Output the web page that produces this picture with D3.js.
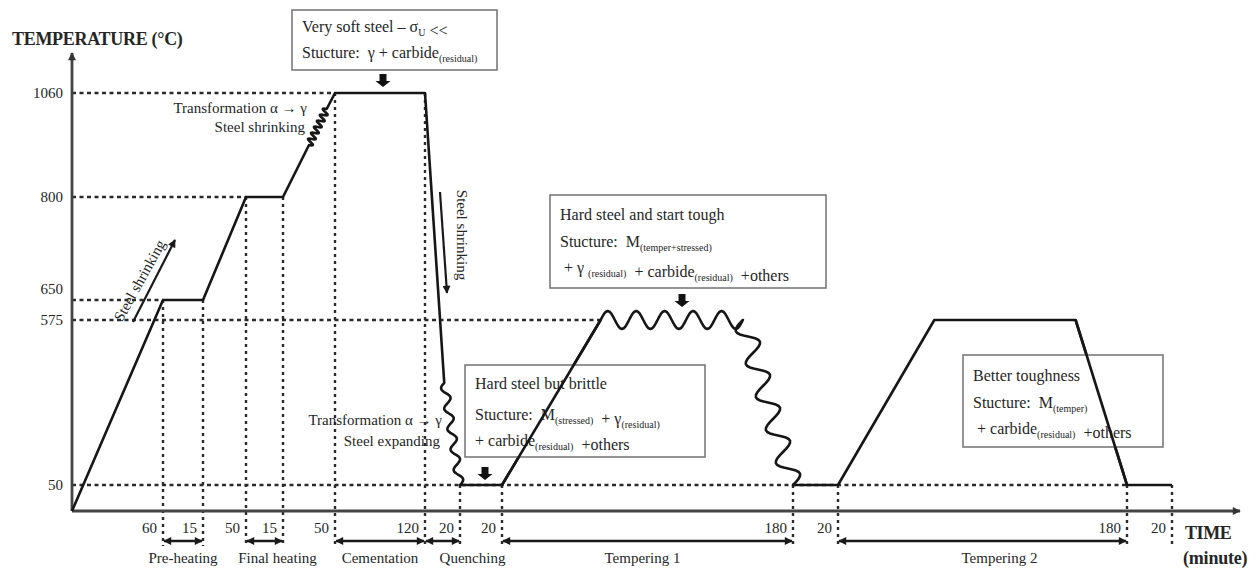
<!DOCTYPE html>
<html>
<head>
<meta charset="utf-8">
<script src="https://cdn.jsdelivr.net/npm/d3@7"></script>
<style>
  body { margin: 0; background: #fff; }
  svg text { font-family: "Liberation Serif", "Times New Roman", serif; fill: #262626; }
</style>
</head>
<body>
<svg id="chart" width="1257" height="576"></svg>
<script>
// ---- data ----
// duration of each stage (minutes), left to right
const stageMinutes = [60, 15, 50, 15, 50, 120, 20, 20, 180, 20, 180, 20];
const tempTicks = [50, 575, 650, 800, 1060];
// dashed guide for each tick runs out to this time
const tickGuideEnd = [730, 411, 60, 125, 190];

// heat treatment profile
const profileTime = [0, 60, 75, 125, 140, 165, 182, 190, 310, 321, 330, 350, 411, 499, 530, 550, 610, 698, 730, 750];
const profileTemp = [20, 650, 650, 800, 800, 930, 1020, 1060, 1060, 375, 50, 50, 575, 575, 50, 50, 575, 575, 50, 50];

const phaseNames = ["Pre-heating", "Final heating", "Cementation", "Quenching", "Tempering 1", "Tempering 2"];
const phaseFrom = [60, 125, 190, 310, 350, 550];
const phaseTo = [75, 140, 310, 330, 530, 730];

// ---- layout / style ----
const axisY = 511, axisX = 72;
const xStops = [72, 163, 203, 246, 283, 335, 425, 460, 502, 793, 838, 1127, 1172];
const yStops = [511, 485, 320, 300, 197, 93];
const phaseLabelNudge = [0, 13, 0, 30, -5, 17];
const serif = "Liberation Serif, Times New Roman, serif";

// wavy segments, keyed by the segment's start time
const wiggle = {
  165: { amp: 3.5, wl: 7, phase: 0 },
  321: { amp: 4, wl: 20, phase: 0 },
  411: { amp: 9, wl: 28, phase: Math.PI },
  499: { amp: 10, wl: 32, phase: 0 }
};

const svg = d3.select("#chart").attr("font-family", serif);

const stageEnds = Array.from(d3.cumsum(stageMinutes));
const timeStops = [0, ...stageEnds];

const x = d3.scaleLinear().domain(timeStops).range(xStops);
const y = d3.scaleLinear().domain([profileTemp[0], ...tempTicks]).range(yStops);

function tempAt(t) {
  return profileTemp[profileTime.indexOf(t)];
}

// defs
const defs = svg.append("defs");
defs.append("marker")
  .attr("id", "head")
  .attr("viewBox", "0 0 10 10")
  .attr("refX", 9).attr("refY", 5)
  .attr("markerUnits", "userSpaceOnUse")
  .attr("markerWidth", 9).attr("markerHeight", 8)
  .attr("orient", "auto-start-reverse")
  .append("path").attr("d", "M0,0 L10,5 L0,10 z").attr("fill", "#1a1a1a");
defs.append("marker")
  .attr("id", "axhead")
  .attr("viewBox", "0 0 10 10")
  .attr("refX", 9).attr("refY", 5)
  .attr("markerUnits", "userSpaceOnUse")
  .attr("markerWidth", 9).attr("markerHeight", 8)
  .attr("orient", "auto")
  .append("path").attr("d", "M0,0 L10,5 L0,10 z").attr("fill", "#333");

// ---- guides ----
const guides = svg.append("g").attr("stroke", "#2b2b2b").attr("stroke-width", 2.4).attr("fill", "none");
guides.selectAll("line.h").data(tempTicks).join("line")
  .attr("class", "h")
  .attr("x1", axisX).attr("x2", (d, i) => x(tickGuideEnd[i]))
  .attr("y1", d => y(d)).attr("y2", d => y(d))
  .attr("stroke-dasharray", "4,3.5");

guides.selectAll("line.v").data(stageEnds).join("line")
  .attr("class", "v")
  .attr("x1", d => x(d)).attr("x2", d => x(d))
  .attr("y1", d => y(tempAt(d))).attr("y2", 546)
  .attr("stroke-dasharray", "3,4");

// ---- axes ----
svg.append("line")
  .attr("x1", axisX).attr("y1", axisY).attr("x2", 1240).attr("y2", axisY)
  .attr("stroke", "#444").attr("stroke-width", 2.8).attr("marker-end", "url(#axhead)");
svg.append("line")
  .attr("x1", axisX).attr("y1", axisY).attr("x2", axisX).attr("y2", 53)
  .attr("stroke", "#444").attr("stroke-width", 2.8).attr("marker-end", "url(#axhead)");

const yAxis = svg.append("g")
  .attr("transform", `translate(${axisX},0)`)
  .call(d3.axisLeft(y).tickValues(tempTicks).tickFormat(d3.format("d")).tickSize(0).tickPadding(9));
yAxis.select(".domain").remove();
yAxis.attr("font-family", serif);
yAxis.selectAll("text")
  .attr("font-family", serif)
  .attr("font-size", 15)
  .attr("fill", "#222");
yAxis.selectAll(".tick").filter(d => d === 650).select("text").attr("y", -11);

svg.append("text").attr("x", 12).attr("y", 45)
  .attr("font-size", 18).attr("font-weight", "bold").attr("letter-spacing", -0.3)
  .text("TEMPERATURE (°C)");
svg.append("text").attr("x", 1185).attr("y", 539)
  .attr("font-size", 18).attr("font-weight", "bold").attr("letter-spacing", -0.4)
  .text("TIME");
svg.append("text").attr("x", 1183).attr("y", 564)
  .attr("font-size", 18).attr("font-weight", "bold").attr("letter-spacing", -0.2)
  .text("(minute)");

// stage durations under the axis
svg.append("g").selectAll("text").data(stageMinutes).join("text")
  .attr("x", (d, i) => x(stageEnds[i]) - 6)
  .attr("y", 533)
  .attr("text-anchor", "end")
  .attr("font-size", 15)
  .text(d => d);

// phase brackets
const ph = svg.append("g");
ph.selectAll("line").data(phaseNames).join("line")
  .attr("x1", (d, i) => x(phaseFrom[i]) + 1)
  .attr("x2", (d, i) => x(phaseTo[i]) - 1)
  .attr("y1", 541).attr("y2", 541)
  .attr("stroke", "#1a1a1a").attr("stroke-width", 2.4)
  .attr("marker-start", "url(#head)").attr("marker-end", "url(#head)");
ph.selectAll("text").data(phaseNames).join("text")
  .attr("x", (d, i) => (x(phaseFrom[i]) + x(phaseTo[i])) / 2 + phaseLabelNudge[i])
  .attr("y", 563)
  .attr("text-anchor", "middle")
  .attr("font-size", 15)
  .text(d => d);

// ---- profile ----
function wavePoints(p0, p1, w) {
  const dx = p1[0] - p0[0], dy = p1[1] - p0[1];
  const len = Math.hypot(dx, dy);
  const nx = -dy / len, ny = dx / len;
  const waves = Math.max(1, Math.round(len / w.wl));
  const steps = waves * 16;
  const pts = [];
  for (let k = 1; k <= steps; k++) {
    const t = k / steps;
    const s = w.amp * Math.sin(t * waves * 2 * Math.PI + w.phase);
    pts.push([p0[0] + dx * t + nx * s, p0[1] + dy * t + ny * s]);
  }
  return pts;
}

const pts = [[x(profileTime[0]), y(profileTemp[0])]];
for (let i = 1; i < profileTime.length; i++) {
  const p0 = [x(profileTime[i - 1]), y(profileTemp[i - 1])];
  const p1 = [x(profileTime[i]), y(profileTemp[i])];
  const w = wiggle[profileTime[i - 1]];
  if (w) pts.push(...wavePoints(p0, p1, w));
  else pts.push(p1);
}
svg.append("path")
  .attr("d", d3.line()(pts))
  .attr("fill", "none")
  .attr("stroke", "#161616")
  .attr("stroke-width", 2.6)
  .attr("stroke-linejoin", "round");

// ---- annotations ----
function textBox(bx, by, bw, bh, lines, baselines) {
  const g = svg.append("g");
  g.append("rect").attr("x", bx).attr("y", by).attr("width", bw).attr("height", bh)
    .attr("fill", "#fff").attr("stroke", "#7a7a7a").attr("stroke-width", 1.6);
  lines.forEach((parts, li) => {
    const t = g.append("text").attr("x", bx + 10).attr("y", by + baselines[li])
      .attr("font-size", 16).attr("font-family", serif).style("white-space", "pre");
    parts.forEach(p => {
      if (typeof p === "string") {
        t.append("tspan").text(p);
      } else {
        t.append("tspan").attr("font-size", 10).attr("dy", 4).text(p.sub);
        t.append("tspan").attr("dy", -4).text("");
      }
    });
  });
}

function pointer(px, top, bottom) {
  const hw = 3.5, head = 7.5, hl = 6;
  svg.append("path")
    .attr("d", `M${px - hw},${top} L${px + hw},${top} L${px + hw},${bottom - hl} L${px + head},${bottom - hl} L${px},${bottom} L${px - head},${bottom - hl} L${px - hw},${bottom - hl} Z`)
    .attr("fill", "#111");
}

textBox(292, 10, 205, 60, [
  ["Very soft steel – σ", { sub: "U" }, " <<"],
  ["Stucture:  γ + carbide", { sub: "(residual)" }]
], [22, 48]);
pointer(383, 74, 87);

textBox(550, 195, 276, 93, [
  ["Hard steel and start tough"],
  ["Stucture:  M", { sub: "(temper+stressed)" }],
  [" + γ ", { sub: "(residual)" }, "  + carbide", { sub: "(residual)" }, "  +others"]
], [25, 52, 78]);
pointer(682, 294, 307);

textBox(963, 355, 200, 92, [
  ["Better toughness"],
  ["Stucture:  M", { sub: "(temper)" }],
  [" + carbide", { sub: "(residual)" }, "  +others"]
], [26, 53, 79]);

textBox(465, 365, 240, 92, [
  ["Hard steel but brittle"],
  ["Stucture:  M", { sub: "(stressed)" }, "  + γ", { sub: "(residual)" }],
  ["+ carbide", { sub: "(residual)" }, "  +others"]
], [24, 55, 81]);
pointer(485, 467, 480);

// the tempering ramps run over the boxes in the reference: redraw those segments on top
svg.append("line")
  .attr("x1", x(350)).attr("y1", y(50)).attr("x2", x(411)).attr("y2", y(575))
  .attr("stroke", "#161616").attr("stroke-width", 2.6);
svg.append("line")
  .attr("x1", x(698)).attr("y1", y(575)).attr("x2", x(730)).attr("y2", y(50))
  .attr("stroke", "#161616").attr("stroke-width", 2.6);

// side notes
function note(xp, yp, anchor, txt, transform) {
  const t = svg.append("text").attr("font-size", 15).attr("font-family", serif)
    .attr("text-anchor", anchor).text(txt);
  if (transform) t.attr("transform", transform);
  else t.attr("x", xp).attr("y", yp);
  return t;
}
note(307, 113, "end", "Transformation α → γ");
note(305, 132, "end", "Steel shrinking");
note(442, 425, "end", "Transformation α → γ");
note(440, 446, "end", "Steel expanding");

note(0, 0, "middle", "Steel shrinking", "translate(144,283) rotate(-61)");
svg.append("line").attr("x1", 133).attr("y1", 322).attr("x2", 175).attr("y2", 240)
  .attr("stroke", "#1a1a1a").attr("stroke-width", 2.2).attr("marker-end", "url(#head)");

note(0, 0, "middle", "Steel shrinking", "translate(457,235) rotate(90)");
svg.append("line").attr("x1", 440).attr("y1", 192).attr("x2", 447).attr("y2", 293)
  .attr("stroke", "#1a1a1a").attr("stroke-width", 2.2).attr("marker-end", "url(#head)");
</script>
</body>
</html>
